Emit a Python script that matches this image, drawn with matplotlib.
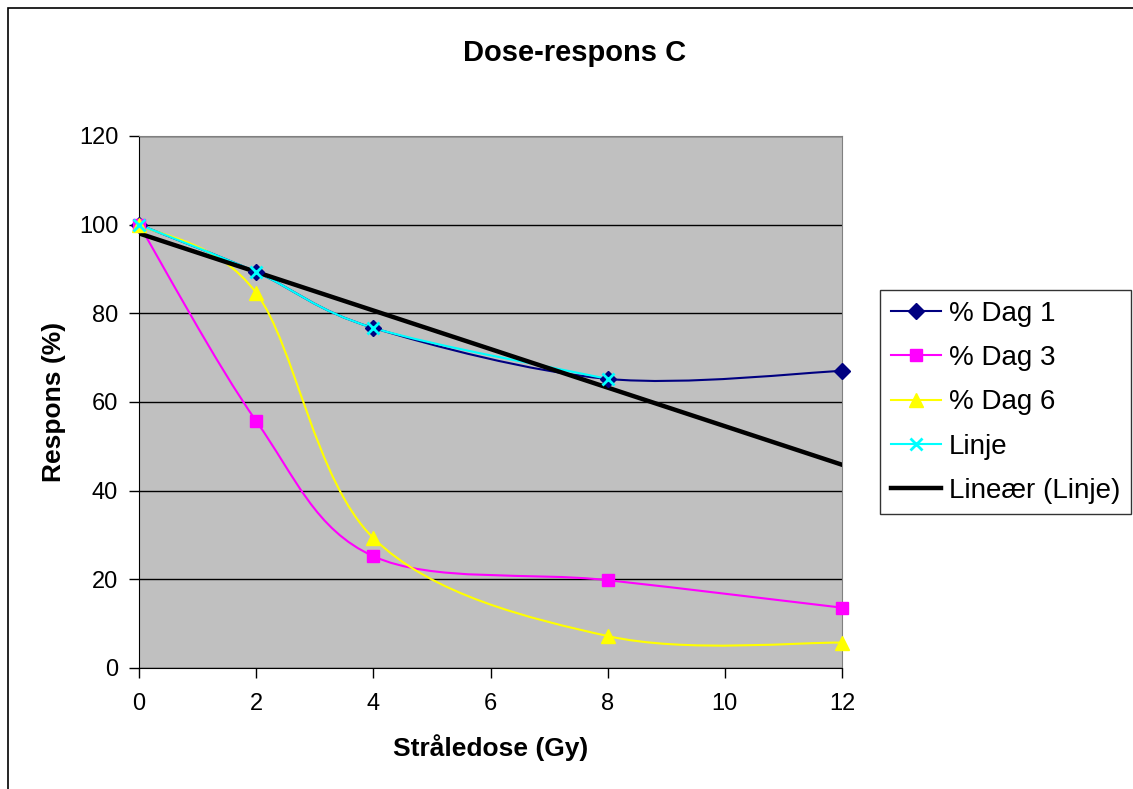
import numpy as np
import matplotlib
matplotlib.use('Agg')
import matplotlib.pyplot as plt
from matplotlib.path import Path
from matplotlib.patches import PathPatch, Rectangle
from matplotlib.lines import Line2D

plt.rcParams['font.family'] = ['Liberation Sans', 'DejaVu Sans']

dose = [0, 2, 4, 8, 12]
dag1 = [100, 89.3, 76.7, 65.2, 67.0]
dag3 = [100, 55.7, 25.2, 19.8, 13.6]
dag6 = [100, 84.6, 29.3, 7.2, 5.7]
linje_dose = [0, 2, 4, 8]
linje = [100, 89.3, 76.7, 65.2]


def smooth_path(x, y):
    # Excel-style smoothed line: cubic Bezier segments with Catmull-Rom tangents
    pts = np.column_stack([x, y]).astype(float)
    n = len(pts)
    verts = [pts[0]]
    codes = [Path.MOVETO]
    for i in range(n - 1):
        p0 = pts[max(i - 1, 0)]
        p1 = pts[i]
        p2 = pts[i + 1]
        p3 = pts[min(i + 2, n - 1)]
        c1 = p1 + (p2 - p0) / 6.0
        c2 = p2 - (p3 - p1) / 6.0
        verts += [c1, c2, p2]
        codes += [Path.CURVE4] * 3
    return Path(verts, codes)


fig = plt.figure(figsize=(11.33, 7.89), dpi=100)
ax = fig.add_axes([0.1227, 0.1534, 0.6205, 0.6743])
ax.set_facecolor('#C0C0C0')

series = [
    (dose, dag1, '#000080', 'D', 8, '% Dag 1'),
    (dose, dag3, '#FF00FF', 's', 8, '% Dag 3'),
    (dose, dag6, '#FFFF00', '^', 9.5, '% Dag 6'),
    (linje_dose, linje, '#00FFFF', 'x', 9, 'Linje'),
]

handles = []
for i, (x, y, c, m, ms, lab) in enumerate(series):
    ax.add_patch(PathPatch(smooth_path(x, y), facecolor='none', edgecolor=c,
                           lw=1.5, zorder=3 + i * 0.1))
    mew = 2 if m == 'x' else 1
    ax.plot(x, y, linestyle='none', marker=m, color=c, markersize=ms,
            markeredgewidth=mew, zorder=5 + i * 0.1, clip_on=False)
    handles.append(Line2D([], [], color=c, lw=1.5, marker=m, markersize=ms,
                          markeredgewidth=mew, label=lab))

# linear trendline of Linje
k, b = np.polyfit(linje_dose, linje, 1)
tx = np.array([0, 12])
ax.plot(tx, k * tx + b, color='black', lw=3.2, zorder=4.5)
handles.append(Line2D([], [], color='black', lw=3.2, label='Lineær (Linje)'))

ax.set_xlim(0, 12)
ax.set_ylim(0, 120)
ax.set_xticks(range(0, 13, 2))
ax.set_yticks(range(0, 121, 20))
ax.yaxis.grid(True, color='black', lw=1)
ax.set_axisbelow(True)
ax.tick_params(labelsize=17, direction='out', length=7, width=1, color='black')
ax.tick_params(axis='y', pad=8)
ax.tick_params(axis='x', pad=11)
for s in ['left', 'bottom']:
    ax.spines[s].set_color('black')
for s in ['top', 'right']:
    ax.spines[s].set_color('#808080')

fig.text(575 / 1133, 1 - 53 / 789, 'Dose-respons C', fontsize=21, fontweight='bold',
         ha='center', va='center')
ax.set_xlabel('Stråledose (Gy)', fontsize=19, fontweight='bold', labelpad=14)
ax.set_ylabel('Respons (%)', fontsize=19, fontweight='bold', labelpad=9)

leg = fig.legend(handles=handles, loc='upper left',
                 bbox_to_anchor=(880 / 1133, 1 - 290 / 789),
                 borderaxespad=0,
                 fontsize=20, frameon=True, fancybox=False, edgecolor='black',
                 handlelength=1.8, labelspacing=0.66, borderpad=0.38,
                 handletextpad=0.3)
leg.get_frame().set_linewidth(1)

fig.patches.append(Rectangle((0.007, -0.01), 1.0, 0.9999, transform=fig.transFigure,
                             fill=False, edgecolor='black', lw=1.2, clip_on=False))

fig.savefig('out.png', dpi=100)
